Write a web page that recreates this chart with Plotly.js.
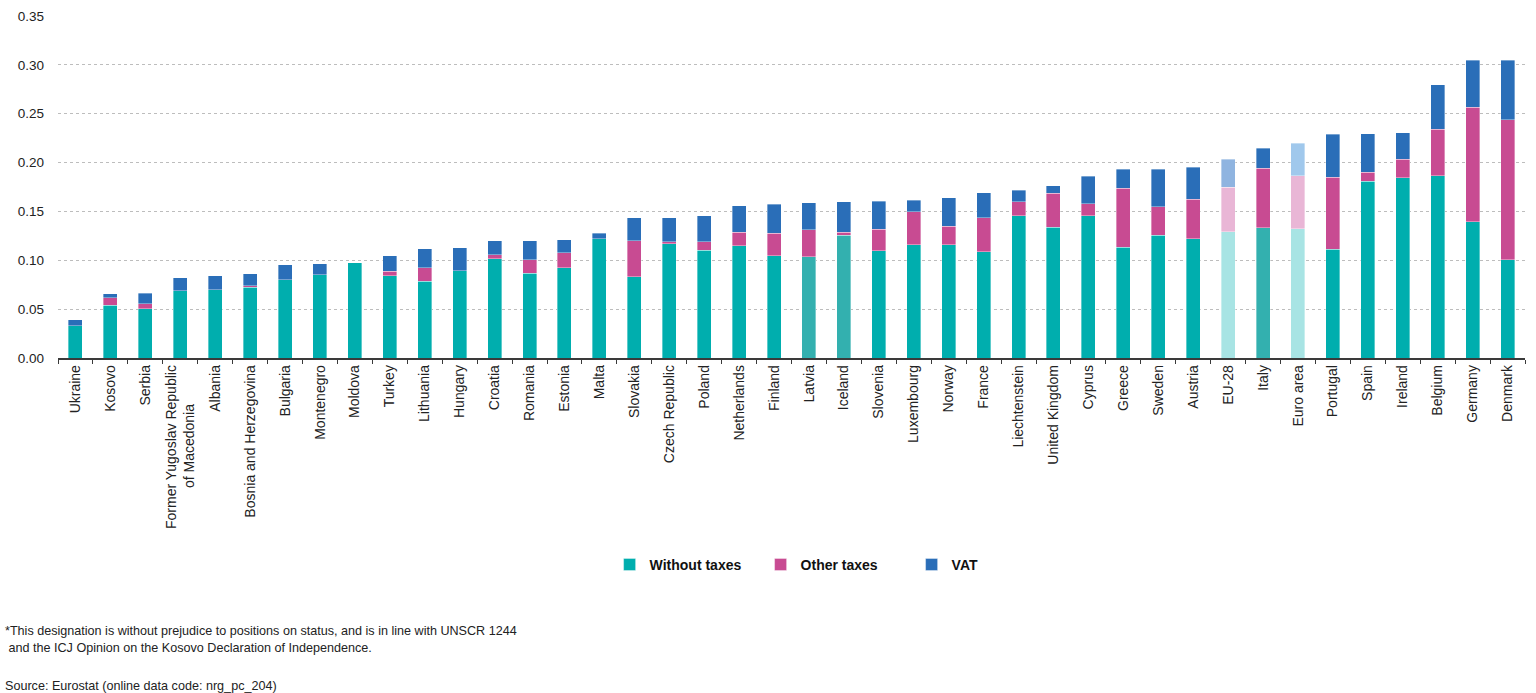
<!DOCTYPE html>
<html>
<head>
<meta charset="utf-8">
<script src="https://cdn.plot.ly/plotly-3.0.1.min.js"></script>
<style>
  html, body { margin: 0; padding: 0; background: #ffffff; }
  #chart { width: 1536px; height: 693px; }
</style>
</head>
<body>
<div id="chart"></div>
<script>
const categories = [
  'Ukraine', 'Kosovo', 'Serbia',
  'Former Yugoslav Republic<br>of Macedonia\u00a0\u00a0\u00a0\u00a0\u00a0\u00a0\u00a0\u00a0\u00a0\u00a0',
  'Albania',
  'Bosnia and Herzegovina', 'Bulgaria', 'Montenegro', 'Moldova', 'Turkey',
  'Lithuania', 'Hungary', 'Croatia', 'Romania', 'Estonia',
  'Malta', 'Slovakia', 'Czech Republic', 'Poland', 'Netherlands',
  'Finland', 'Latvia', 'Iceland', 'Slovenia', 'Luxembourg',
  'Norway', 'France', 'Liechtenstein', 'United Kingdom', 'Cyprus',
  'Greece', 'Sweden', 'Austria', 'EU-28', 'Italy',
  'Euro area', 'Portugal', 'Spain', 'Ireland', 'Belgium',
  'Germany', 'Denmark'
];

const withoutTaxes = [
  0.0330, 0.0540, 0.0504, 0.0690, 0.0700,
  0.0722, 0.0800, 0.0850, 0.0974, 0.0844,
  0.0783, 0.0892, 0.1014, 0.0868, 0.0926,
  0.1219, 0.0834, 0.1171, 0.1103, 0.1147,
  0.1048, 0.1035, 0.1256, 0.1099, 0.1157,
  0.1157, 0.1089, 0.1454, 0.1338, 0.1454,
  0.1134, 0.1256, 0.1222, 0.1290, 0.1331,
  0.1321, 0.1113, 0.1811, 0.1845, 0.1865,
  0.1395, 0.1004
];

const otherTaxes = [
  0.0000, 0.0076, 0.0051, 0.0000, 0.0000,
  0.0017, 0.0000, 0.0000, 0.0000, 0.0045,
  0.0139, 0.0000, 0.0041, 0.0136, 0.0150,
  0.0000, 0.0364, 0.0017, 0.0085, 0.0140,
  0.0229, 0.0276, 0.0031, 0.0219, 0.0341,
  0.0191, 0.0348, 0.0143, 0.0348, 0.0125,
  0.0603, 0.0290, 0.0402, 0.0460, 0.0613,
  0.0544, 0.0739, 0.0089, 0.0188, 0.0477,
  0.1169, 0.1433
];

const vat = [
  0.0060, 0.0041, 0.0109, 0.0130, 0.0140,
  0.0121, 0.0156, 0.0113, 0.0000, 0.0156,
  0.0195, 0.0235, 0.0143, 0.0194, 0.0133,
  0.0058, 0.0239, 0.0249, 0.0266, 0.0269,
  0.0299, 0.0276, 0.0310, 0.0286, 0.0116,
  0.0290, 0.0255, 0.0122, 0.0077, 0.0283,
  0.0197, 0.0388, 0.0327, 0.0286, 0.0201,
  0.0335, 0.0436, 0.0394, 0.0272, 0.0457,
  0.0483, 0.0610
];

const seriesNames = ['Without taxes', 'Other taxes', 'VAT'];
const aggregateNames = ['EU-28', 'Euro area'];
const mutedNames = ['Latvia', 'Iceland', 'Italy'];

const baseColors = ['#00AEAE', '#C84B92', '#2A6EB8'];
const mutedColors = ['#33B0AF', '#C84B92', '#2A6EB8'];
const paleColors = {
  'EU-28': ['#A8E4E4', '#E9B6D6', '#8FB4E0'],
  'Euro area': ['#A8E4E4', '#E9B6D6', '#A0C8EC']
};

function colorsFor(seriesIndex) {
  return categories.map(function (c) {
    if (aggregateNames.indexOf(c) >= 0) return paleColors[c][seriesIndex];
    if (mutedNames.indexOf(c) >= 0) return mutedColors[seriesIndex];
    return baseColors[seriesIndex];
  });
}

const seriesValues = [withoutTaxes, otherTaxes, vat];

const traces = seriesValues.map(function (vals, i) {
  return {
    type: 'bar',
    name: seriesNames[i],
    x: categories,
    y: vals,
    marker: {
      color: colorsFor(i),
      line: { color: 'rgba(255,255,255,0.45)', width: 0.8 }
    },
    hovertemplate: '%{x}: %{y:.4f}<extra>' + seriesNames[i] + '</extra>'
  };
});

const baseFont = 'Liberation Sans, Arial, Helvetica, sans-serif';

const layout = {
  width: 1536,
  height: 693,
  margin: { l: 58, r: 11, t: 16, b: 335 },
  paper_bgcolor: '#ffffff',
  plot_bgcolor: '#ffffff',
  barmode: 'stack',
  bargap: 0.6,
  font: { family: baseFont, size: 13, color: '#222222' },
  showlegend: true,
  legend: {
    orientation: 'h',
    x: 0.376,
    xanchor: 'left',
    y: -0.605,
    yanchor: 'middle',
    traceorder: 'normal',
    entrywidth: 106,
    font: { family: baseFont, size: 14, color: '#111111', weight: 'bold' },
    bgcolor: 'rgba(0,0,0,0)'
  },
  xaxis: {
    type: 'category',
    tickangle: -90,
    tickfont: { family: baseFont, size: 14, color: '#222222' },
    showline: true,
    linecolor: '#3a3a3a',
    linewidth: 1.5,
    ticks: 'outside',
    tickson: 'boundaries',
    ticklen: 4,
    tickcolor: '#3a3a3a',
    tickwidth: 1,
    showgrid: false,
    zeroline: false,
    automargin: false
  },
  yaxis: {
    range: [0, 0.35],
    dtick: 0.05,
    tick0: 0,
    tickformat: '.2f',
    tickfont: { family: baseFont, size: 13.5, color: '#222222' },
    showgrid: true,
    gridcolor: '#bdbdbd',
    gridwidth: 1,
    griddash: 'dot',
    zeroline: false,
    showline: false,
    ticks: '',
    ticklabelstandoff: 13,
    automargin: false
  },
  annotations: [
    {
      xref: 'paper', yref: 'paper',
      x: -0.0375, y: -0.798, xanchor: 'left', yanchor: 'middle',
      align: 'left', showarrow: false,
      text: '*This designation is without prejudice to positions on status, and is in line with UNSCR 1244',
      font: { family: baseFont, size: 12.6, color: '#222222' }
    },
    {
      xref: 'paper', yref: 'paper',
      x: -0.0375, y: -0.848, xanchor: 'left', yanchor: 'middle',
      align: 'left', showarrow: false,
      text: '\u00a0and the ICJ Opinion on the Kosovo Declaration of Independence.',
      font: { family: baseFont, size: 12.6, color: '#222222' }
    },
    {
      xref: 'paper', yref: 'paper',
      x: -0.0375, y: -0.958, xanchor: 'left', yanchor: 'middle',
      align: 'left', showarrow: false,
      text: 'Source: Eurostat (online data code: nrg_pc_204)',
      font: { family: baseFont, size: 12.6, color: '#222222' }
    }
  ]
};

Plotly.newPlot('chart', traces, layout, { displayModeBar: false, staticPlot: true });
</script>
</body>
</html>
